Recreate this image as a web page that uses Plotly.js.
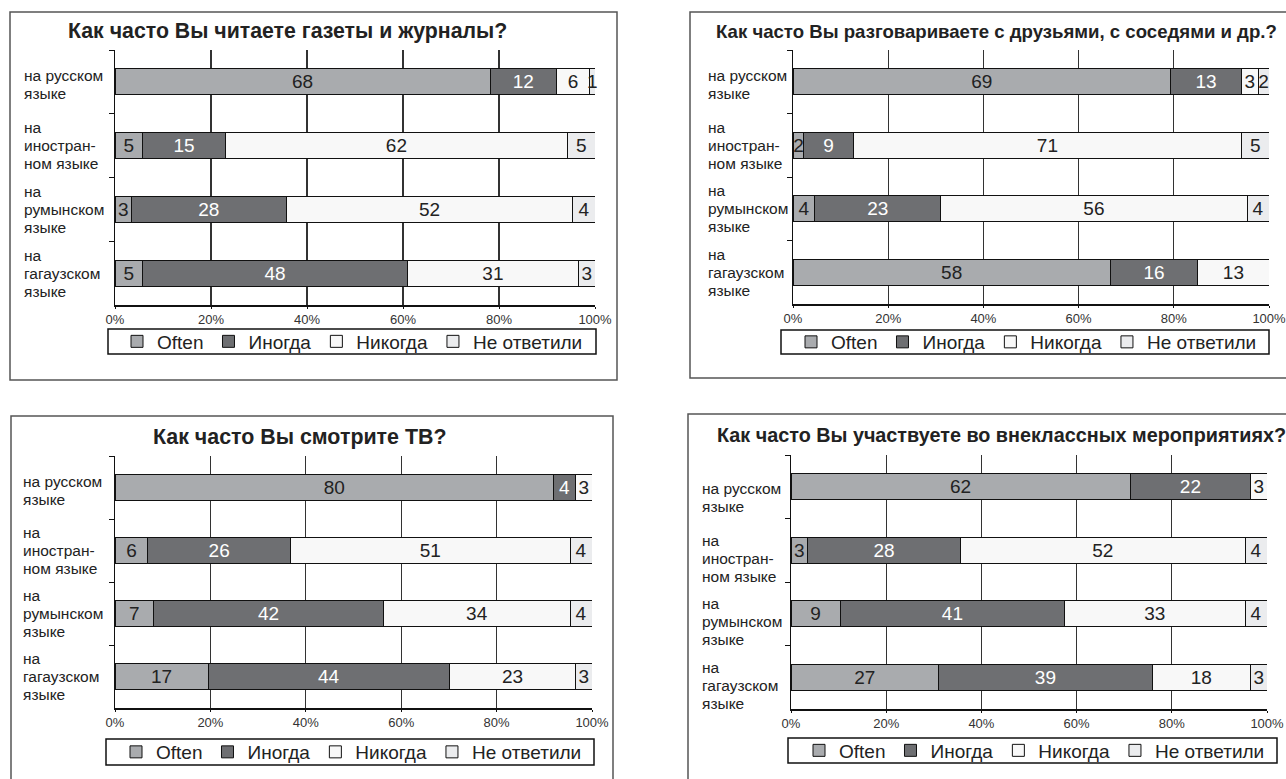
<!DOCTYPE html>
<html><head><meta charset="utf-8">
<script src="https://cdn.plot.ly/plotly-3.0.1.min.js"></script>
<style>html,body{margin:0;padding:0;background:#fff;overflow:hidden}#chart{width:1286px;height:779px}</style>
</head><body><div id="chart"></div>
<script>
// ---- data ----
const categories = ['ru', 'foreign', 'ro', 'gag'];
const categoryLabels = ['на русском<br>языке', 'на<br>иностран-<br>ном языке', 'на<br>румынском<br>языке', 'на<br>гагаузском<br>языке'];
const seriesNames = ['Often', 'Иногда', 'Никогда', 'Не ответили'];
const xTickVals = [0, 20, 40, 60, 80, 100];
const xTickText = ['0%', '20%', '40%', '60%', '80%', '100%'];
const panelTitles = [
  'Как часто Вы читаете газеты и журналы?',
  'Как часто Вы разговариваете с друзьями, с соседями и др.?',
  'Как часто Вы смотрите ТВ?',
  'Как часто Вы участвуете во внеклассных мероприятиях?'
];
// panel 1: newspapers
const newsOften = [68, 5, 3, 5];
const newsSometimes = [12, 15, 28, 48];
const newsNever = [6, 62, 52, 31];
const newsNoAnswer = [1, 5, 4, 3];
// panel 2: talking
const talkOften = [69, 2, 4, 58];
const talkSometimes = [13, 9, 23, 16];
const talkNever = [3, 71, 56, 13];
const talkNoAnswer = [2, 5, 4, null];
// panel 3: TV
const tvOften = [80, 6, 7, 17];
const tvSometimes = [4, 26, 42, 44];
const tvNever = [3, 51, 34, 23];
const tvNoAnswer = [null, 4, 4, 3];
// panel 4: extracurricular
const extraOften = [62, 3, 9, 27];
const extraSometimes = [22, 28, 41, 39];
const extraNever = [3, 52, 33, 18];
const extraNoAnswer = [null, 4, 4, 3];

const panelSeries = [
  [newsOften, newsSometimes, newsNever, newsNoAnswer],
  [talkOften, talkSometimes, talkNever, talkNoAnswer],
  [tvOften, tvSometimes, tvNever, tvNoAnswer],
  [extraOften, extraSometimes, extraNever, extraNoAnswer]
];

// ---- style / layout ----
const W = 1286, H = 779;
const FONT = 'Liberation Sans, Arial, sans-serif';
const colors = ['#a9abae', '#6e6f72', '#f8f8f8', '#ebecee'];
const textColors = ['#222', '#ffffff', '#222', '#222'];
const px = v => v / W;
const py = v => 1 - v / H;

const panels = [
  {dx: [115, 595], dy: [50, 305], title: [287, 31], titleSize: 21.3, labelX: 22, labelShift: 0,
   legend: [117, 341.5], legendBox: [108, 329, 596, 354], border: [10, 12, 617, 380]},
  {dx: [793, 1269], dy: [50, 304], title: [996, 31], titleSize: 18.6, labelX: 706, labelShift: 0,
   legend: [791, 342], legendBox: [781, 330, 1269, 354], border: [690, 12, 1292, 378]},
  {dx: [115, 592], dy: [456, 708], title: [300, 437], titleSize: 21.4, labelX: 21, labelShift: 0,
   legend: [116, 752], legendBox: [106, 739, 594, 765], border: [11, 416, 613, 790]},
  {dx: [791, 1267], dy: [455, 709], title: [1001, 435], titleSize: 19.8, labelX: 700, labelShift: -8,
   legend: [799, 750.5], legendBox: [788, 738, 1277, 763], border: [688, 414, 1292, 790]}
];

const data = [];
const layout = {
  width: W, height: H,
  margin: {l: 0, r: 0, t: 0, b: 0, autoexpand: false},
  paper_bgcolor: '#fff', plot_bgcolor: '#fff',
  barmode: 'stack', barnorm: 'percent',
  uniformtext: {mode: 'show', minsize: 19},
  font: {family: FONT, color: '#222'},
  showlegend: true,
  annotations: [], shapes: []
};

panels.forEach((p, k) => {
  const n = k === 0 ? '' : String(k + 1);
  const xa = 'x' + n, ya = 'y' + n, lg = 'legend' + n;
  panelSeries[k].forEach((vals, s) => {
    data.push({
      type: 'bar', orientation: 'h', name: seriesNames[s],
      x: vals, y: categories,
      xaxis: xa, yaxis: ya, legend: lg,
      width: 0.41,
      marker: {color: colors[s], line: {color: '#111', width: 1}},
      text: vals.map(v => v == null ? '' : String(v)),
      textposition: 'inside', insidetextanchor: 'middle', textangle: 0,
      textfont: {size: 19, color: textColors[s], family: FONT},
      cliponaxis: false,
      hoverinfo: 'skip'
    });
  });
  layout['xaxis' + n] = {
    domain: [px(p.dx[0]), px(p.dx[1])], anchor: ya,
    range: [0, 100], tickvals: xTickVals, ticktext: xTickText,
    showgrid: true, gridcolor: '#333', gridwidth: 1.3,
    showline: true, linecolor: '#111', linewidth: 1.5,
    ticks: 'outside', ticklen: 2, tickcolor: '#111',
    ticklabeloverflow: 'allow',
    tickfont: {size: 13, color: '#333', family: FONT},
    zeroline: false, fixedrange: true
  };
  layout['yaxis' + n] = {
    domain: [py(p.dy[1]), py(p.dy[0])], anchor: xa,
    type: 'category', autorange: 'reversed',
    showticklabels: false, ticks: 'outside', tickson: 'boundaries',
    ticklen: 5, tickcolor: '#111',
    showline: true, linecolor: '#111', linewidth: 1.5,
    showgrid: false, zeroline: false, fixedrange: true
  };
  layout[lg] = {
    x: px(p.legend[0]), y: py(p.legend[1]), xanchor: 'left', yanchor: 'middle',
    orientation: 'h', traceorder: 'normal',
    borderwidth: 0, bgcolor: 'rgba(0,0,0,0)',
    itemwidth: 30,
    font: {size: 19, color: '#222', family: FONT}
  };
  layout.shapes.push({
    type: 'rect', xref: 'paper', yref: 'paper',
    x0: px(p.legendBox[0]), x1: px(p.legendBox[2]), y0: py(p.legendBox[3]), y1: py(p.legendBox[1]),
    line: {color: '#111', width: 1.5}, fillcolor: '#fff', layer: 'below'
  });
  layout.annotations.push({
    xref: 'paper', yref: 'paper', x: px(p.title[0]), y: py(p.title[1]),
    xanchor: 'center', yanchor: 'middle', showarrow: false,
    text: '<b>' + panelTitles[k] + '</b>',
    font: {size: p.titleSize, color: '#222', family: FONT}
  });
  categories.forEach((c, i) => {
    const lines = categoryLabels[i].split('<br>');
    lines.forEach((ln, j) => {
      layout.annotations.push({
        xref: 'paper', yref: ya, x: px(p.labelX), y: c,
        xanchor: 'left', yanchor: 'middle', align: 'left', showarrow: false,
        yshift: p.labelShift - (j - (lines.length - 1) / 2) * 18 - (lines.length === 2 ? 3 : 0),
        text: ln,
        font: {size: 15.5, color: '#222', family: FONT}
      });
    });
  });
  layout.shapes.push({
    type: 'rect', xref: 'paper', yref: 'paper',
    x0: px(p.border[0]), x1: px(p.border[2]), y0: py(p.border[3]), y1: py(p.border[1]),
    line: {color: '#555', width: 1.5}, fillcolor: 'rgba(0,0,0,0)', layer: 'below'
  });
});

Plotly.newPlot('chart', data, layout, {displayModeBar: false, staticPlot: true});
</script>
</body></html>
